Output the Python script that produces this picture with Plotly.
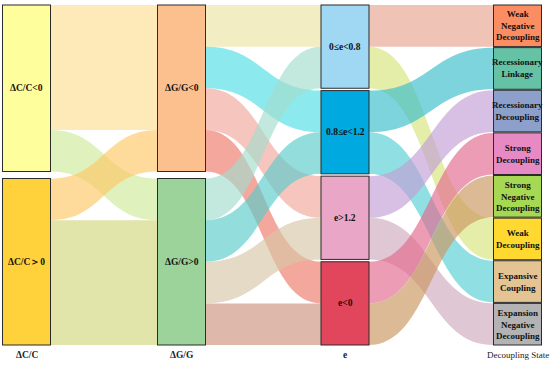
import colorsys
import plotly.graph_objects as go

# ---------------- data ----------------
node_labels = ["ΔC/C<0", "ΔC/C＞0",
               "ΔG/G<0", "ΔG/G>0",
               "0≤e<0.8", "0.8≤e<1.2", "e>1.2", "e<0",
               "Weak<br>Negative<br>Decoupling", "Recessionary<br>Linkage",
               "Recessionary<br>Decoupling", "Strong<br>Decoupling",
               "Strong<br>Negative<br>Decoupling", "Weak<br>Decoupling",
               "Expansive<br>Coupling", "Expansion<br>Negative<br>Decoupling"]
node_column = [0, 0, 1, 1, 2, 2, 2, 2, 3, 3, 3, 3, 3, 3, 3, 3]
column_titles = ["ΔC/C", "ΔG/G", "e", "Decoupling State"]

link_source = [0, 0, 1, 1, 2, 2, 2, 2, 3, 3, 3, 3, 4, 4, 5, 5, 6, 6, 7, 7]
link_target = [2, 3, 2, 3, 4, 5, 6, 7, 4, 5, 6, 7, 8, 13, 9, 14, 10, 15, 11, 12]
link_value = [3, 1, 1, 3, 1, 1, 1, 1, 1, 1, 1, 1, 1, 1, 1, 1, 1, 1, 1, 1]

# ---------------- styles ----------------
node_colors = ["#FFFE9C", "#FFD23C",
               "#FBC08E", "#9CD39A",
               "#A0D8F3", "#00A9E0", "#EAA6C6", "#E1465C",
               "#FC8D62", "#66C2A5", "#8DA0CB", "#E78AC3",
               "#A6D854", "#FFD92F", "#E5C494", "#B3B3B3"]
col_x_px = [26.5, 181.5, 345, 517.5]
W, H = 550, 370
margin = dict(l=0, r=0, t=5, b=25)
plot_h = H - margin["t"] - margin["b"]
pad = 1
thickness = 48


def hex_rgb(h):
    h = h.lstrip("#")
    return tuple(int(h[i:i + 2], 16) / 255 for i in (0, 2, 4))


def blend(a, b, alpha):
    ra, rb = hex_rgb(a), hex_rgb(b)
    m = [(x + y) / 2 for x, y in zip(ra, rb)]
    ha, la, sa = colorsys.rgb_to_hls(*ra)
    hb, lb, sb = colorsys.rgb_to_hls(*rb)
    hm, lm, sm = colorsys.rgb_to_hls(*m)
    r, g, bb = colorsys.hls_to_rgb(hm, (la + lb) / 2, max(sm, 0.75 * (sa + sb) / 2))
    return f"rgba({round(r*255)},{round(g*255)},{round(bb*255)},{alpha})"


link_colors = [blend(node_colors[s], node_colors[t], 0.66)
               for s, t in zip(link_source, link_target)]

# node totals
n = len(node_labels)
tot_in = [0] * n
tot_out = [0] * n
for s, t, v in zip(link_source, link_target, link_value):
    tot_out[s] += v
    tot_in[t] += v
node_total = [max(a, b) for a, b in zip(tot_in, tot_out)]

# layout positions (centres) per column
ncols = max(node_column) + 1
col_sum = [sum(node_total[i] for i in range(n) if node_column[i] == c) for c in range(ncols)]
ky = min((plot_h - (node_column.count(c) - 1) * pad) / col_sum[c] for c in range(ncols))
node_x, node_y = [0] * n, [0] * n
for c in range(ncols):
    idx = [i for i in range(n) if node_column[i] == c]
    heights = [node_total[i] * ky for i in idx]
    gap = (plot_h - sum(heights)) / (len(idx) - 1) if len(idx) > 1 else 0
    y = 0
    for i, h in zip(idx, heights):
        node_y[i] = (y + h / 2) / plot_h
        node_x[i] = col_x_px[c] / W
        y += h + gap

fig = go.Figure(go.Sankey(
    arrangement="fixed",
    node=dict(label=[""] * n, customdata=[l.replace("<br>", " ") for l in node_labels],
              hovertemplate="%{customdata}<extra></extra>",
              color=node_colors, x=node_x, y=node_y, pad=pad, thickness=thickness,
              line=dict(color="#2b2b2b", width=1)),
    link=dict(source=link_source, target=link_target, value=link_value,
              color=link_colors),
))

annotations = []
for i in range(n):
    size = 9.5 if node_column[i] < 3 else 9
    annotations.append(dict(x=node_x[i], y=1 - node_y[i], xref="paper", yref="paper",
                            text=f"<b>{node_labels[i]}</b>", showarrow=False,
                            xanchor="center", yanchor="middle", align="center",
                            font=dict(family="Liberation Serif", size=size, color="#111")))
for c, t in enumerate(column_titles):
    bold = c < 3
    annotations.append(dict(x=col_x_px[c] / W, y=-10 / plot_h, xref="paper", yref="paper",
                            text=f"<b>{t}</b>" if bold else t, showarrow=False,
                            xanchor="center", yanchor="middle",
                            font=dict(family="Liberation Serif", size=9.5 if bold else 9,
                                      color="#222")))

fig.update_layout(width=W, height=H, margin=margin, paper_bgcolor="white",
                  annotations=annotations, font=dict(family="Liberation Serif"))
fig.write_html("out.html", config={"displayModeBar": False},
               post_script="document.body.style.margin='0px';document.body.style.overflow='hidden';")
